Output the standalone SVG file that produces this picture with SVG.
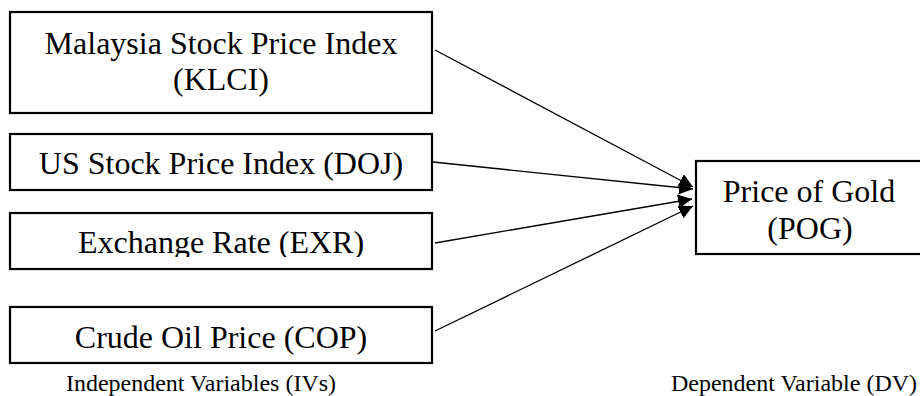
<svg xmlns="http://www.w3.org/2000/svg" width="920" height="396" viewBox="0 0 920 396">
<style>
.box{fill:#fff;stroke:#000;stroke-width:2.2}
.t{font-family:"Liberation Serif","Times New Roman",serif;font-size:32px;fill:#000;text-anchor:middle}
.cap{font-family:"Liberation Serif","Times New Roman",serif;font-size:24px;fill:#000;text-anchor:middle}
.con{stroke:#000;stroke-width:1.3;fill:none;marker-end:url(#ah)}
</style>
<defs>
<marker id="ah" markerUnits="userSpaceOnUse" markerWidth="15" markerHeight="14" refX="14" refY="7" orient="auto">
<path d="M0,0 L14,7 L0,14 Z" fill="#000"/>
</marker>
<clipPath id="clipEx"><rect x="10" y="213" width="422" height="44"/></clipPath>
</defs>
<rect width="920" height="396" fill="#fff"/>
<g id="connectors">
<line class="con" x1="435" y1="50" x2="693" y2="187"/>
<line class="con" x1="433" y1="162" x2="693" y2="189"/>
<line class="con" x1="435" y1="243" x2="692" y2="199"/>
<line class="con" x1="435" y1="331" x2="693" y2="206"/>
</g>
<g id="klci">
<rect class="box" x="10" y="12" width="422" height="101"/>
<text class="t" x="221" y="54">Malaysia Stock Price Index</text>
<text class="t" x="221" y="90">(KLCI)</text>
</g>
<g id="doj">
<rect class="box" x="10" y="134" width="422" height="56"/>
<text class="t" x="221" y="174">US Stock Price Index (DOJ)</text>
</g>
<g id="exr">
<rect class="box" x="10" y="213" width="422" height="56"/>
<text class="t" x="221" y="253" clip-path="url(#clipEx)">Exchange Rate (EXR)</text>
</g>
<g id="cop">
<rect class="box" x="10" y="307" width="422" height="56"/>
<text class="t" x="221" y="348">Crude Oil Price (COP)</text>
</g>
<g id="pog">
<rect class="box" x="696" y="161" width="228" height="93"/>
<text class="t" x="809" y="202">Price of Gold</text>
<text class="t" x="810" y="239">(POG)</text>
</g>
<g id="labels">
<text class="cap" x="201" y="391">Independent Variables (IVs)</text>
<text class="cap" x="794" y="391">Dependent Variable (DV)</text>
</g>
</svg>
